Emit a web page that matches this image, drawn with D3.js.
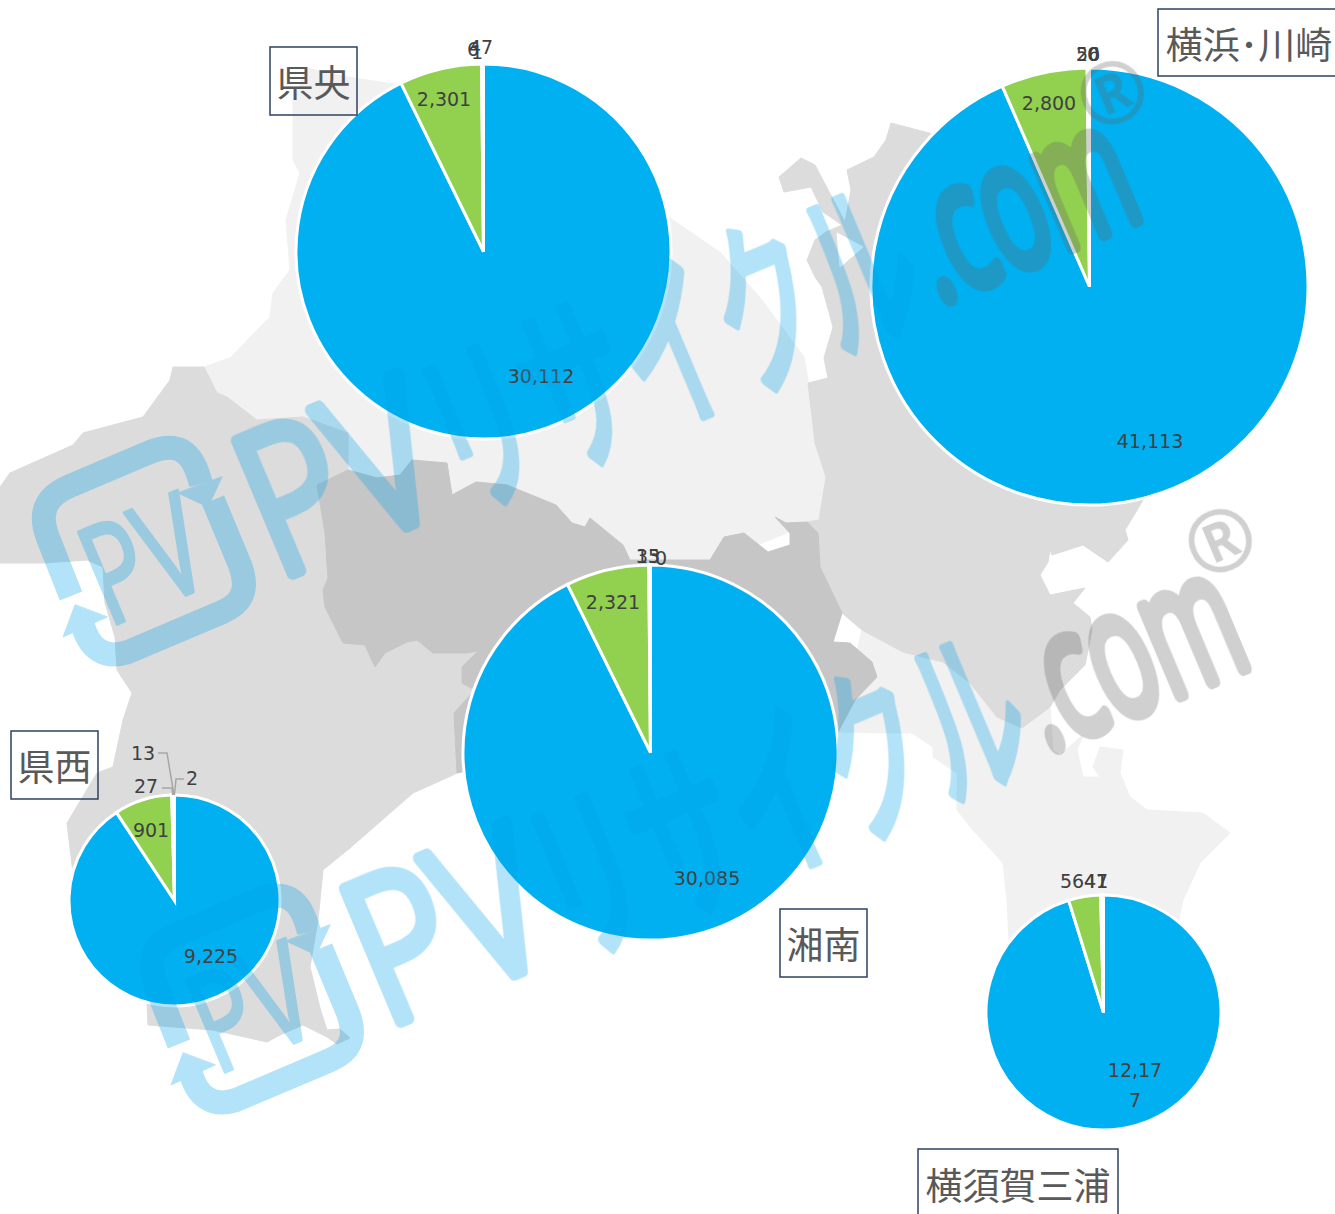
<!DOCTYPE html>
<html>
<head>
<meta charset="utf-8">
<title>神奈川 地域別 PVリサイクル</title>
<script src="https://d3js.org/d3.v7.min.js"></script>
<style>
	html, body {
		margin: 0;
		padding: 0;
		background: #fff;
		overflow: hidden;
	}

	.slice {
		stroke: #fff;
		stroke-width: 3px;
	}

	.value {
		font-family: "DejaVu Sans", sans-serif;
		font-size: 19px;
		fill: #404040;
		text-anchor: middle;
	}

	.leader {
		fill: none;
		stroke: #a6a6a6;
		stroke-width: 1.5px;
	}

	.region-box {
		fill: none;
		stroke: #2f4260;
		stroke-width: 1.5px;
	}

	.region-name {
		font-family: "Noto Sans CJK JP", sans-serif;
		font-size: 37px;
		fill: #595959;
		text-anchor: middle;
	}
</style>
</head>
<body>
<script>
	var width = 1335,
			height = 1214;

	// values, clockwise from 12 o'clock
	var regions = ["県央", "横浜･川崎", "湘南", "県西", "横須賀三浦"];
	var chuo = [30112, 2301, 47, 6, 1];
	var yokohama = [41113, 2800, 56, 20, 0];
	var shonan = [30085, 2321, 35, 13, 0];
	var seibu = [9225, 901, 27, 13, 2];
	var miura = [12177, 564, 41, 7, 1];
	var values = [chuo, yokohama, shonan, seibu, miura];
	var sliceColors = ["#00b0f0", "#92d050", "#ffc000", "#ed7d31", "#7030a0"];

	// where each pie sits and where its labels were put (offsets from pie centre)
	var layout = [
		{ cx: 483.5, cy: 251.5, r: 187.5,
			box: [270, 47, 87, 68],
			labels: [[57.5, 124.5], [-39.5, -152.5], [-2.5, -204.5], [-10.5, -202.5], [-6.5, -199.5]] },
		{ cx: 1089.5, cy: 286.5, r: 218.5,
			box: [1158, 9, 190, 67],
			labels: [[60.5, 154.5], [-40.5, -183.5], [-1.5, -232.5], [-1.5, -232.5], [3.5, -232.5]] },
		{ cx: 650.5, cy: 752.5, r: 187.5,
			box: [780, 909, 87, 68],
			labels: [[56.5, 125.5], [-37.5, -150.5], [-2.5, -196.5], [-2.5, -196.5], [10.5, -194.5]] },
		{ cx: 174.5, cy: 900.5, r: 105.5,
			box: [11, 731, 87, 68],
			labels: [[36.5, 55.5], [-23.5, -70.5], [-28.5, -114.5], [-31.5, -147.5], [17.5, -122.5]],
			leaders: { 2: [[-12.5, -112.5], [-2.5, -112.5]], 3: [[-16.5, -147.5], [-7.5, -147.5]], 4: [[9.5, -121.5], [1.5, -121.5]] } },
		{ cx: 1103.5, cy: 1012.5, r: 117.5,
			box: [918, 1149, 200, 80],
			wrap: 5,
			labels: [[31.5, 73], [-25.5, -131.5], [-7.5, -131.5], [-1.5, -131.5], [-1.5, -131.5]] }
	];

	// backdrop map, traced by hand
	var mapLight = [
		[293, 140], [293, 100], [307, 68], [347, 77], [400, 85], [520, 70], [670, 218], [721, 253], [762, 300], [804, 357],
		[808, 380], [815, 443], [826, 477], [819, 520], [720, 560], [600, 560], [317, 485], [257, 420], [227, 397], [217, 393],
		[204, 367], [230, 358], [270, 317], [273, 293], [290, 270], [286, 220], [300, 173], [293, 160]
	];
	var mapLightSouth = [
		[862, 630], [1040, 700], [1050, 707], [1053, 750], [1060, 755], [1083, 735], [1077, 750], [1083, 777], [1100, 777],
		[1093, 767], [1100, 747], [1123, 750], [1120, 773], [1130, 797], [1147, 810], [1203, 813], [1230, 833], [1200, 863],
		[1183, 900], [1170, 960], [1010, 960], [1007, 900], [1003, 863], [973, 830], [957, 810], [957, 773], [933, 757],
		[933, 747], [912, 733], [838, 732]
	];
	var mapMidWest = [
		[0, 487], [10, 473], [73, 445], [83, 433], [143, 417], [170, 380], [173, 367], [204, 367], [217, 393], [227, 397],
		[257, 420], [303, 417], [348, 433], [348, 470], [327, 485], [480, 640], [480, 760], [463, 770], [453, 775], [413, 793],
		[350, 848], [323, 870], [318, 920], [310, 967], [320, 1008], [327, 1030], [340, 1029], [350, 1038], [337, 1044],
		[327, 1037], [303, 1025], [280, 1035], [267, 1042], [213, 1030], [148, 1025], [147, 1003], [100, 950], [73, 873],
		[67, 823], [97, 773], [113, 767], [123, 720], [132, 693], [117, 670], [115, 637], [105, 603], [103, 567], [87, 560],
		[43, 563], [0, 563]
	];
	var mapMidEast = [
		[847, 170], [874, 157], [886, 140], [891, 123], [929, 133], [1000, 150], [1200, 400], [1143, 500], [1133, 517], [1125, 530],
		[1128, 540], [1108, 562], [1083, 545], [1052, 555], [1050, 550], [1048, 562], [1040, 575], [1050, 595], [1085, 588],
		[1073, 603], [1090, 617], [1092, 630], [1085, 665], [1060, 690], [1050, 707], [1022, 728], [997, 717], [970, 683],
		[943, 662], [903, 652], [862, 630], [842, 613], [820, 567], [818, 533], [807, 522], [819, 520], [826, 477], [815, 443],
		[808, 383], [828, 378], [824, 358], [833, 327], [822, 287], [815, 277], [807, 260], [815, 240], [826, 232], [842, 225],
		[823, 212], [811, 187], [784, 192], [779, 177], [801, 158], [815, 165], [845, 222], [851, 190]
	];
	var mapWedge = [[837, 233], [863, 247], [840, 267]];
	var mapDark = [
		[317, 485], [348, 470], [377, 478], [400, 475], [412, 460], [447, 463], [452, 495], [476, 482], [507, 485], [556, 505],
		[572, 523], [585, 527], [590, 518], [623, 545], [630, 560], [710, 560], [724, 537], [744, 533], [768, 552], [790, 545],
		[790, 533], [775, 517], [786, 523], [807, 522], [818, 533], [820, 567], [842, 613], [833, 642], [850, 643], [872, 662],
		[877, 677], [855, 700], [838, 732], [700, 760], [482, 650], [467, 653], [433, 653], [417, 640], [407, 642], [385, 653],
		[375, 667], [365, 645], [343, 643], [325, 607], [323, 590], [328, 578], [325, 533]
	];
	var mapDarkLeft = [[479, 650], [462, 667], [462, 683], [475, 690], [454, 713], [457, 773], [520, 760], [520, 650]];

	var svg = d3.select("body").append("svg")
			.attr("width", width)
			.attr("height", height)
			.style("display", "block");

	////////////////////////////////////////////////////////////
	// Map
	var outline = d3.line().curve(d3.curveLinearClosed);
	var map = svg.append("g").attr("class", "map");
	[[mapLight, "#f1f1f1"], [mapLightSouth, "#f1f1f1"], [mapMidWest, "#dcdcdc"], [mapMidEast, "#dcdcdc"],
		[mapWedge, "#fff"], [mapDark, "#c6c6c6"], [mapDarkLeft, "#c6c6c6"]].forEach(function(m) {
		map.append("path")
				.attr("d", outline(m[0]))
				.style("fill", m[1])
				.style("stroke", m[1])
				.style("stroke-linejoin", "round");
	});

	////////////////////////////////////////////////////////////
	// Pies
	var pie = d3.pie()
			.sort(null)
			.value(function(d) { return d; });
	var number = d3.format(",");

	var pies = svg.selectAll(".pie")
			.data(values)
		.enter().append("g")
			.attr("class", "pie")
			.attr("transform", function(d, i) { return "translate(" + layout[i].cx + "," + layout[i].cy + ")"; });

	pies.each(function(vals, i) {
		var g = d3.select(this),
				place = layout[i],
				arc = d3.arc().innerRadius(0).outerRadius(place.r),
				rim = d3.arc().innerRadius(place.r).outerRadius(place.r);

		g.selectAll(".slice")
				.data(pie(vals))
			.enter().append("path")
				.attr("class", "slice")
				.attr("d", arc)
				.style("fill", function(d, j) { return sliceColors[j]; });

		// only the small slices of 県西 have leader lines
		if (place.leaders) {
			var slices = pie(vals);
			Object.keys(place.leaders).forEach(function(j) {
				g.append("polyline")
						.attr("class", "leader")
						.attr("points", place.leaders[j].concat([rim.centroid(slices[j])]).join(" "));
			});
		}

		g.selectAll(".value")
				.data(vals)
			.enter().append("text")
				.attr("class", "value")
				.attr("x", function(d, j) { return place.labels[j][0]; })
				.attr("y", function(d, j) { return place.labels[j][1]; })
				.attr("dy", "0.36em")
				.each(function(d) {
					var s = number(d),
							t = d3.select(this);
					if (place.wrap && s.length > place.wrap) {
						t.attr("dy", null);
						t.append("tspan").attr("x", t.attr("x")).attr("dy", "-0.45em").text(s.slice(0, place.wrap));
						t.append("tspan").attr("x", t.attr("x")).attr("dy", "30px").text(s.slice(place.wrap));
					} else {
						t.text(s);
					}
				});
	});

	////////////////////////////////////////////////////////////
	// Region names
	regions.forEach(function(name, i) {
		var b = layout[i].box;
		svg.append("rect")
				.attr("class", "region-box")
				.attr("x", b[0])
				.attr("y", b[1])
				.attr("width", b[2])
				.attr("height", b[3]);
		svg.append("text")
				.attr("class", "region-name")
				.attr("x", i === 1 ? 1249 : b[0] + b[2] / 2)
				.attr("y", i === 4 ? 1186 : b[1] + b[3] / 2)
				.attr("dy", i === 4 ? "0.38em" : "0.44em")
				.text(name);
	});

	////////////////////////////////////////////////////////////
	// Watermark (drawn twice, over everything)
	var tilt = "translate(290,575) rotate(-22.8)";

	function stamp(offset) {
		var w = svg.append("g").attr("transform", "translate(" + offset + ")");

		var blue = w.append("g")
				.style("opacity", 0.3)
				.style("fill", "#00a0eb")
				.style("stroke", "#00a0eb")
				.style("stroke-linejoin", "round")
				.style("stroke-linecap", "round");

		// logo: rounded box with two arrows
		blue.append("path")
				.attr("d", "M71,596 L48,538 C38,512 46,496 70,486 L150,452 C176,442 192,448 201,484")
				.style("fill", "none")
				.style("stroke-width", 24)
				.style("stroke-linecap", "butt");
		blue.append("path")
				.attr("d", "M213,500 L240,565 C250,592 240,605 220,613 L128,652 C104,660 88,648 82,622")
				.style("fill", "none")
				.style("stroke-width", 24)
				.style("stroke-linecap", "butt");
		blue.append("path").attr("d", "M222,477 L208,507 L178,493 Z").style("stroke-width", 1);
		blue.append("path").attr("d", "M75,605 L63,637 L107,617 Z").style("stroke-width", 1);

		blue.append("text")
				.attr("transform", "translate(108,628) rotate(-22.8)")
				.attr("textLength", 118)
				.attr("lengthAdjust", "spacingAndGlyphs")
				.style("font-family", "'Noto Sans', sans-serif")
				.style("font-size", "140px")
				.style("stroke-width", 3)
				.text("PV");

		var letters = blue.append("g").attr("transform", tilt).style("stroke-width", 13);
		letters.append("text")
				.attr("x", -14)
				.attr("textLength", 192)
				.attr("lengthAdjust", "spacingAndGlyphs")
				.style("font-family", "'Noto Sans', sans-serif")
				.style("font-weight", 300)
				.style("font-size", "200px")
				.text("PV");
		letters.append("text")
				.attr("x", 181)
				.attr("y", 8)
				.attr("textLength", 515)
				.attr("lengthAdjust", "spacingAndGlyphs")
				.style("font-family", "'Noto Sans CJK JP', sans-serif")
				.style("font-size", "190px")
				.style("stroke-width", 9)
				.text("リサイクル");

		var grey = w.append("g")
				.attr("transform", tilt)
				.style("opacity", 0.3)
				.style("fill", "#646464")
				.style("stroke", "#646464")
				.style("stroke-linejoin", "round");
		grey.append("text")
				.attr("x", 703)
				.attr("textLength", 226)
				.attr("lengthAdjust", "spacingAndGlyphs")
				.style("font-family", "'Noto Sans', sans-serif")
				.style("font-weight", 300)
				.style("font-size", "176px")
				.style("stroke-width", 15)
				.text(".com");
		grey.append("text")
				.attr("x", 910)
				.attr("y", -96)
				.style("font-family", "'Noto Sans', sans-serif")
				.style("font-size", "84px")
				.style("stroke-width", 1)
				.text("®");
	}

	stamp([0, 0]);
	stamp([108, 448]);
</script>
</body>
</html>
